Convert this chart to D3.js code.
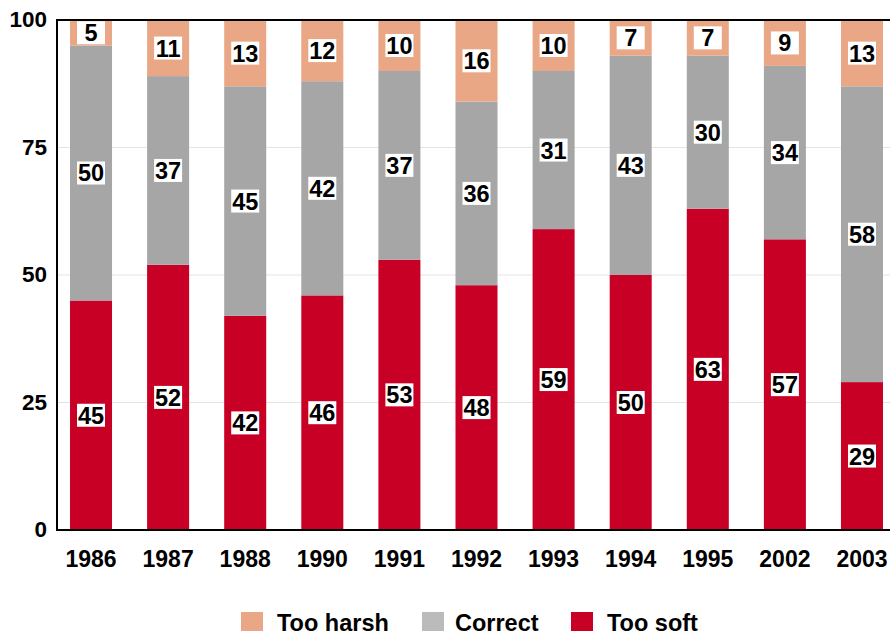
<!DOCTYPE html>
<html>
<head>
<meta charset="utf-8">
<script src="https://cdn.jsdelivr.net/npm/d3@7"></script>
<style>
	body { margin: 0; background: #fff; }
	svg { display: block; font-family: 'Liberation Sans', Arial, sans-serif; font-weight: bold; }
</style>
</head>
<body>
<svg class="display"></svg>
<script>
const years = ['1986', '1987', '1988', '1990', '1991', '1992', '1993', '1994', '1995', '2002', '2003'];
const tooSoft = [45, 52, 42, 46, 53, 48, 59, 50, 63, 57, 29];
const correct = [50, 37, 45, 42, 37, 36, 31, 43, 30, 34, 58];
const tooHarsh = [5, 11, 13, 12, 10, 16, 10, 7, 7, 9, 13];
const yTicks = [0, 25, 50, 75, 100];
const seriesNames = ['Too harsh', 'Correct', 'Too soft'];

//define area of graph
const totalWidth = 890,
	totalHeight = 635,
	plot = { left: 57, top: 20, right: 890, bottom: 530 };

const colors = { 'Too soft': '#c80025', Correct: '#a6a6a6', 'Too harsh': '#eaa785' };
const legendColors = { 'Too soft': '#c80025', Correct: '#bbbbbb', 'Too harsh': '#eaa785' };

const rows = years.map((y, i) => ({
	year: y,
	'Too soft': tooSoft[i],
	Correct: correct[i],
	'Too harsh': tooHarsh[i]
}));

const stack = d3.stack().keys(['Too soft', 'Correct', 'Too harsh'])(rows);

const xScale = d3.scaleBand().domain(years).range([70, 883]).paddingInner(0.455).paddingOuter(0);
const yScale = d3.scaleLinear().domain([0, 100]).range([plot.bottom, plot.top]);

const svg = d3.select('.display').attr('width', totalWidth).attr('height', totalHeight);

//gridlines (very faint)
svg.append('g')
	.selectAll('line')
	.data(yTicks.filter((t) => t > 0 && t < 100))
	.enter()
	.append('line')
	.attr('x1', plot.left)
	.attr('x2', plot.right)
	.attr('y1', (d) => yScale(d))
	.attr('y2', (d) => yScale(d))
	.attr('stroke', '#e4e4e4')
	.attr('stroke-width', 1);

//bars
const layer = svg.append('g')
	.selectAll('g')
	.data(stack)
	.enter()
	.append('g')
	.attr('fill', (d) => colors[d.key]);

layer.selectAll('rect')
	.data((d) => d)
	.enter()
	.append('rect')
	.attr('x', (d) => xScale(d.data.year))
	.attr('width', xScale.bandwidth())
	.attr('y', (d) => yScale(d[1]))
	.attr('height', (d) => yScale(d[0]) - yScale(d[1]));

//value labels in white boxes
const labels = [];
stack.forEach((s) => {
	s.forEach((d) => {
		labels.push({ year: d.data.year, mid: (d[0] + d[1]) / 2, value: d[1] - d[0] });
	});
});

const lab = svg.append('g').selectAll('g').data(labels).enter().append('g')
	.attr('transform', (d) => 'translate(' + (xScale(d.year) + xScale.bandwidth() / 2) + ',' + yScale(d.mid) + ')');

lab.append('rect')
	.attr('x', -14)
	.attr('y', -11.5)
	.attr('width', 28)
	.attr('height', 23)
	.attr('fill', '#fff');

lab.append('text')
	.attr('text-anchor', 'middle')
	.attr('dy', '0.36em')
	.style('font-size', '23.5px')
	.attr('fill', '#000')
	.text((d) => d.value);

//frame: top line, left and bottom axes
svg.append('line')
	.attr('x1', plot.left).attr('x2', plot.right)
	.attr('y1', plot.top).attr('y2', plot.top)
	.attr('stroke', '#000').attr('stroke-width', 2);
svg.append('line')
	.attr('x1', plot.left).attr('x2', plot.left)
	.attr('y1', plot.top - 1).attr('y2', plot.bottom + 1)
	.attr('stroke', '#000').attr('stroke-width', 2);
svg.append('line')
	.attr('x1', plot.left - 1).attr('x2', plot.right)
	.attr('y1', plot.bottom).attr('y2', plot.bottom)
	.attr('stroke', '#000').attr('stroke-width', 2);

//y axis labels
svg.append('g')
	.selectAll('text')
	.data(yTicks)
	.enter()
	.append('text')
	.attr('x', 47)
	.attr('y', (d) => yScale(d))
	.attr('dy', '0.33em')
	.attr('text-anchor', 'end')
	.style('font-size', '22.5px')
	.text((d) => d);

//x axis labels
svg.append('g')
	.selectAll('text')
	.data(years)
	.enter()
	.append('text')
	.attr('x', (d) => xScale(d) + xScale.bandwidth() / 2)
	.attr('y', 567)
	.attr('text-anchor', 'middle')
	.style('font-size', '23px')
	.text((d) => d);

//legend
const legendX = [241, 422, 571];
const legend = svg.append('g')
	.selectAll('g')
	.data(seriesNames)
	.enter()
	.append('g')
	.attr('transform', (d, i) => 'translate(' + legendX[i] + ',612)');

legend.append('rect')
	.attr('width', 22)
	.attr('height', 19)
	.attr('fill', (d) => legendColors[d]);

legend.append('text')
	.attr('x', (d, i) => (i === 1 ? 33 : 36))
	.attr('y', 19)
	.style('font-size', '23.5px')
	.text((d) => d);
</script>
</body>
</html>
